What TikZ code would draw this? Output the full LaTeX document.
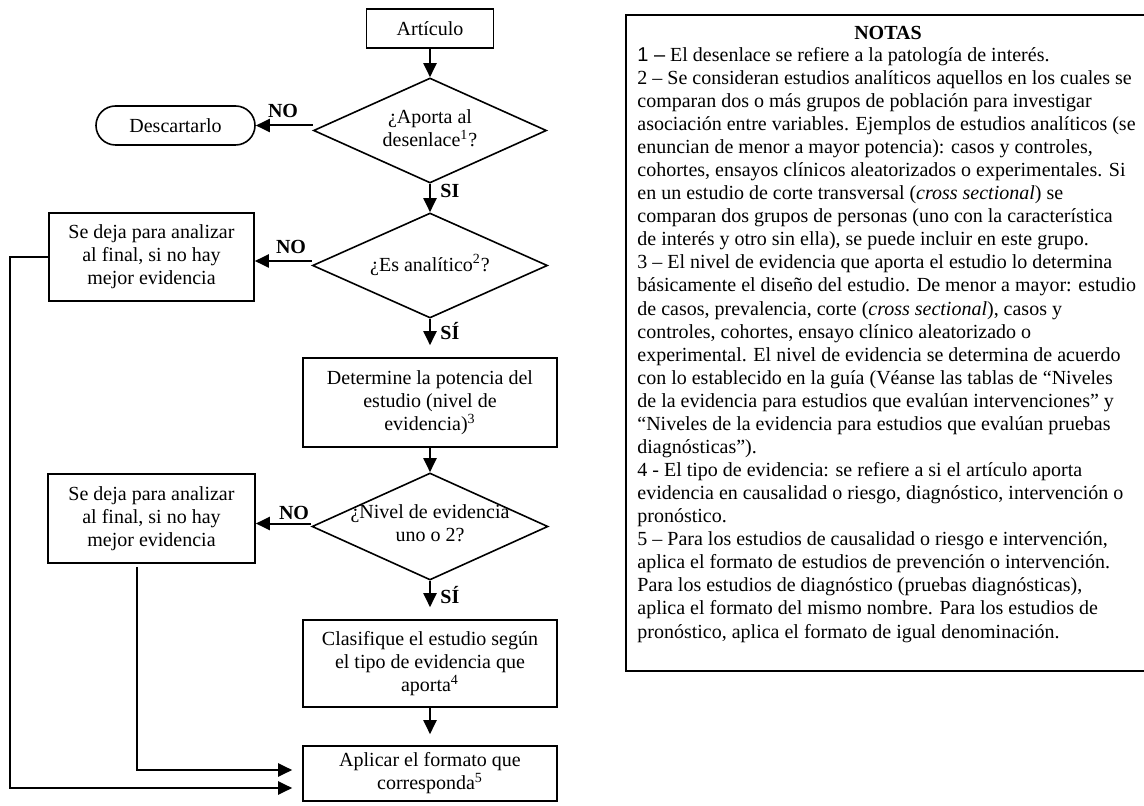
\documentclass[tikz,border=0pt]{standalone}
\usepackage{fontspec}
\setmainfont{Liberation Serif}
\newfontfamily\arialf{Liberation Sans}
\usetikzlibrary{arrows.meta,shapes.geometric,calc}
\begin{document}
\begin{tikzpicture}[x=0.5pt,y=-0.5pt,
  every node/.style={font=\fontsize{10}{11.535}\selectfont},
  box/.style={draw,line width=0.8pt,rectangle,inner sep=0pt,align=center},
  dec/.style={draw,line width=0.8pt,diamond,inner sep=0pt},
  dtext/.style={inner sep=0pt,align=center},
  conn/.style={line width=1pt,-{Triangle[length=7pt,width=6.5pt]}},
  lab/.style={font=\bfseries\fontsize{10}{11.535}\selectfont,inner sep=0pt}]
\useasboundingbox (0,0) rectangle (1144,806);
\clip (0,0) rectangle (1144,806);

% flowchart nodes
\node[box, minimum width=63.5pt, minimum height=19.5pt] (art) at (430,28.5) {Artículo};
\node[dec, minimum width=116.5pt, minimum height=52.5pt] (d1) at (430,130.5) {};
\node[dtext] (t1) at (430,128) {¿Aporta al\\desenlace\textsuperscript{1}?};
\node[box, rounded corners=9.75pt, minimum width=79.5pt, minimum height=19.5pt] (desc) at (175.5,125.5) {Descartarlo};

\node[dec, minimum width=117.5pt, minimum height=52.5pt] (d2) at (430,265.5) {};
\node[dtext] (t2) at (430,265) {¿Es analítico\textsuperscript{2}?};
\node[box, minimum width=102.5pt, minimum height=44pt] (no1) at (151.5,257) {Se deja para analizar\\al final, si no hay\\mejor evidencia};

\node[box, minimum width=127pt, minimum height=44.5pt] (det) at (430,402.5) {Determine la potencia del\\estudio (nivel de\\evidencia)\textsuperscript{3}};

\node[dec, minimum width=118pt, minimum height=53.5pt] (d3) at (430,526.5) {};
\node[dtext] (t3) at (430,523) {¿Nivel de evidencia\\uno o 2?};
\node[box, minimum width=103.5pt, minimum height=44.5pt] (no2) at (151.5,518.5) {Se deja para analizar\\al final, si no hay\\mejor evidencia};

\node[box, minimum width=127pt, minimum height=43.5pt] (cla) at (430,663.5) {Clasifique el estudio según\\el tipo de evidencia que\\aporta\textsuperscript{4}};
\node[box, minimum width=127pt, minimum height=27.5pt] (apl) at (430,773.5) {Aplicar el formato que\\corresponda\textsuperscript{5}};

% connectors
\coordinate (a2) at ($(d2.west)+(0,-4.5)$);
\coordinate (a3) at ($(d3.west)+(0,-3)$);
\draw[conn] (art) -- (d1);
\draw[conn] (d1.west |- desc.east) -- (desc.east);
\draw[conn] (d1) -- (d2);
\draw[conn] (a2) -- (a2 -| no1.east);
\draw[conn, shorten >=6pt] (d2) -- (det);
\draw[conn] (det) -- (d3);
\draw[conn] (a3) -- (a3 -| no2.east);
\draw[conn, shorten >=6pt] (d3) -- (cla);
\draw[conn, shorten >=5.5pt] (cla) -- (apl);

\coordinate (s2) at ([xshift=-7.25pt, yshift=-1.5pt]no2.south);
\coordinate (lft) at (9.5,0);
\draw[conn, shorten >=5pt] (s2) |- ([yshift=1.75pt]apl.west);
\draw[conn, shorten >=5pt] (no1.west) -- (no1.west -| lft) |- ([yshift=-7.25pt]apl.west);

% labels
\node[lab, anchor=base] (l1) at (283,118) {NO};
\node[lab, anchor=base west] (l2) at (440,198) {SI};
\node[lab, anchor=base] (l3) at (291,254) {NO};
\node[lab, anchor=base west] (l4) at (440,340) {SÍ};
\node[lab, anchor=base] (l5) at (294,519) {NO};
\node[lab, anchor=base west] (l6) at (440,603) {SÍ};

% notes box
\node[draw, line width=1pt, anchor=north west, minimum width=263pt, minimum height=328pt, inner sep=0pt] (notes) at (625,14) {};
\node[lab, anchor=base] (nt) at (888,39.5) {NOTAS};
\node[anchor=base west, inner sep=0pt] (body) at (637,61.3) {\parbox[t]{300pt}{\raggedright
{\arialf 1 –} El desenlace se refiere a la patología de interés.\\
2 – Se consideran estudios analíticos aquellos en los cuales se\\
comparan dos o más grupos de población para investigar\\
asociación entre variables. Ejemplos de estudios analíticos (se\\
enuncian de menor a mayor potencia): casos y controles,\\
cohortes, ensayos clínicos aleatorizados o experimentales. Si\\
en un estudio de corte transversal (\textit{cross sectional}) se\\
comparan dos grupos de personas (uno con la característica\\
de interés y otro sin ella), se puede incluir en este grupo.\\
3 – El nivel de evidencia que aporta el estudio lo determina\\
básicamente el diseño del estudio. De menor a mayor: estudio\\
de casos, prevalencia, corte (\textit{cross sectional}), casos y\\
controles, cohortes, ensayo clínico aleatorizado o\\
experimental. El nivel de evidencia se determina de acuerdo\\
con lo establecido en la guía (Véanse las tablas de “Niveles\\
de la evidencia para estudios que evalúan intervenciones” y\\
“Niveles de la evidencia para estudios que evalúan pruebas\\
diagnósticas”).\\
4 - El tipo de evidencia: se refiere a si el artículo aporta\\
evidencia en causalidad o riesgo, diagnóstico, intervención o\\
pronóstico.\\
5 – Para los estudios de causalidad o riesgo e intervención,\\
aplica el formato de estudios de prevención o intervención.\\
Para los estudios de diagnóstico (pruebas diagnósticas),\\
aplica el formato del mismo nombre. Para los estudios de\\
pronóstico, aplica el formato de igual denominación.}};
\end{tikzpicture}
\end{document}
